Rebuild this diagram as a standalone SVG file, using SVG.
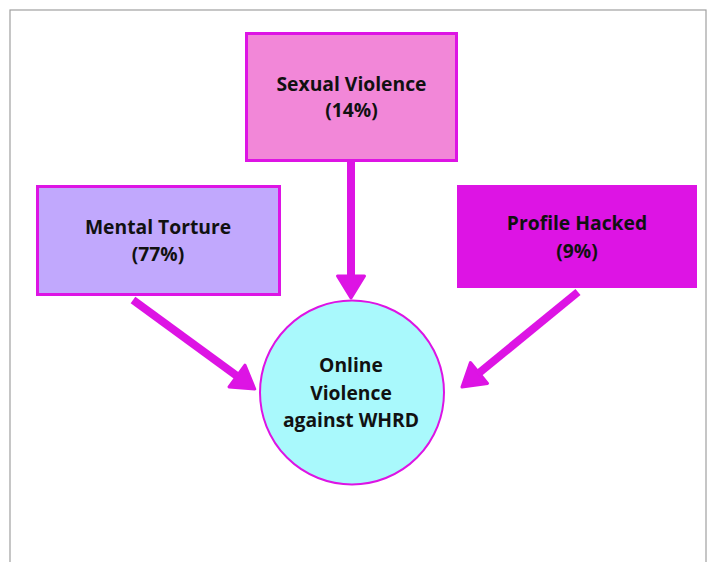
<svg xmlns="http://www.w3.org/2000/svg" width="707" height="562" viewBox="0 0 707 562">
<style>
.t{font-family:"Open Sans","Liberation Sans",sans-serif;font-weight:700;font-size:19.3px;fill:#111;text-anchor:middle}
.box{stroke:#dd14e4;stroke-width:3}
.arr{stroke:#dd14e4;stroke-width:8;fill:none;stroke-linecap:butt}
</style>
<defs>
<marker id="head" markerUnits="userSpaceOnUse" viewBox="-3 -18 30 36" refX="0" refY="0" markerWidth="30" markerHeight="36" orient="auto" overflow="visible">
<path d="M0,-13.5 L22,0 L0,13.5 Z" fill="#dd14e4" stroke="#dd14e4" stroke-width="3" stroke-linejoin="round"/>
</marker>
</defs>
<rect x="0" y="0" width="707" height="562" fill="#fff"/>
<rect x="10" y="10" width="696" height="600" fill="#fff" stroke="#a0a0a0" stroke-width="1.2"/>
<g id="connectors">
<path class="arr" d="M351,162 L351,276" marker-end="url(#head)"/>
<path class="arr" d="M133,300 L237,376" marker-end="url(#head)"/>
<path class="arr" d="M578,292 L479,373" marker-end="url(#head)"/>
</g>
<g id="sexual">
<rect class="box" x="246.5" y="33.5" width="210" height="127" fill="#f287d8"/>
<text class="t" x="351.5" y="91">Sexual Violence</text>
<text class="t" x="351.5" y="117">(14%)</text>
</g>
<g id="mental">
<rect class="box" x="37.5" y="186.5" width="242" height="108" fill="#c1a8fd"/>
<text class="t" x="158" y="234">Mental Torture</text>
<text class="t" x="158" y="261">(77%)</text>
</g>
<g id="profile">
<rect x="457" y="185" width="240" height="103" fill="#dd14e4"/>
<text class="t" x="577" y="230">Profile Hacked</text>
<text class="t" x="577" y="258">(9%)</text>
</g>
<g id="online">
<circle cx="352" cy="392.5" r="92" fill="#a9f9fc" stroke="#dd14e4" stroke-width="2"/>
<text class="t" x="351" y="372">Online</text>
<text class="t" x="351" y="399.5">Violence</text>
<text class="t" x="351" y="427">against WHRD</text>
</g>
</svg>
